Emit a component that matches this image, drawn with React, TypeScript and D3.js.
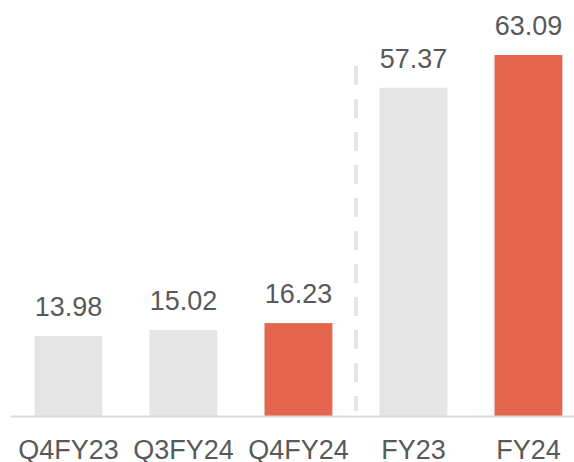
import React from 'react';
import * as d3 from 'd3';

const categories = ['Q4FY23', 'Q3FY24', 'Q4FY24', 'FY23', 'FY24'];
const values = [13.98, 15.02, 16.23, 57.37, 63.09];
const highlighted = [false, false, true, false, true];

const width = 574;
const height = 462;
const baseline = 416;

function App() {
  const x = d3.scaleBand<string>()
    .domain(categories)
    .range([11.5, 585.35])
    .paddingInner(0.41)
    .paddingOuter(0.2);

  const y = d3.scaleLinear()
    .domain([0, 63.09])
    .range([baseline, 55]);

  // separator between quarters and full years
  const sepX = ((x('Q4FY24') as number) + x.bandwidth() + (x('FY23') as number)) / 2;

  return (
    <svg
      width={width}
      height={height}
      style={{ position: 'absolute', left: 0, top: 0 }}
      fontFamily="'Liberation Sans', Arial, sans-serif"
    >
      {categories.map((c, i) => (
        <g key={c}>
          <rect
            x={x(c)}
            y={y(values[i])}
            width={x.bandwidth()}
            height={baseline - y(values[i])}
            fill={highlighted[i] ? '#e4664e' : '#e5e5e5'}
          />
          <text
            x={(x(c) as number) + x.bandwidth() / 2}
            y={y(values[i]) - 20}
            textAnchor="middle"
            fontSize={27}
            fill="#595959"
          >
            {values[i].toFixed(2)}
          </text>
          <text
            x={(x(c) as number) + x.bandwidth() / 2}
            y={459}
            textAnchor="middle"
            fontSize={27}
            fill="#595959"
          >
            {c}
          </text>
        </g>
      ))}
      <line
        x1={sepX}
        x2={sepX}
        y1={66}
        y2={411}
        stroke="#e5e5e5"
        strokeWidth={4}
        strokeDasharray="19 14"
      />
      <line x1={11} x2={574} y1={416.5} y2={416.5} stroke="#d9d9d9" strokeWidth={2} />
    </svg>
  );
}

export default App;
